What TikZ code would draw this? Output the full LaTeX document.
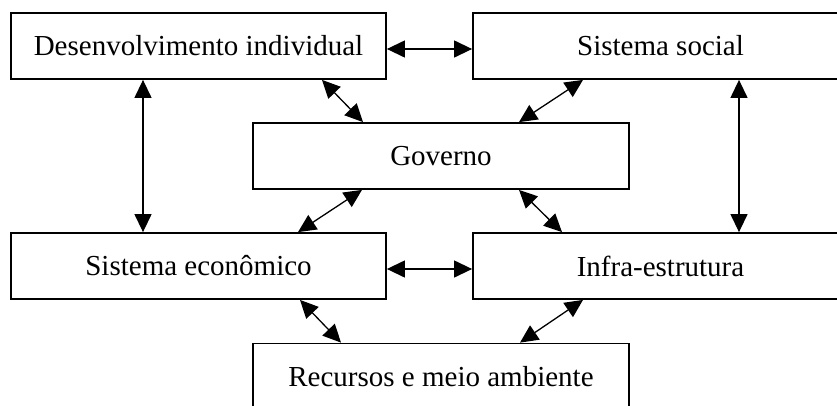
\documentclass[tikz,border=0pt]{standalone}
\usepackage{fontspec}
\setmainfont{Liberation Serif}
\usepackage{tikz}
\usetikzlibrary{arrows.meta,positioning}

\tikzset{
  bloco/.style={draw, line width=1.8pt, minimum width=375pt, minimum height=66pt,
    inner sep=0pt, font=\fontsize{29}{34}\selectfont},
  liga/.style={{Triangle[length=18pt,width=17pt]}-{Triangle[length=18pt,width=17pt]}, line width=1.3pt}
}

\begin{document}
\begin{tikzpicture}[x=1pt,y=-1pt]
        % Page frame (boxes run off the right and bottom edges)
        \useasboundingbox (0,0) rectangle (837,405);
        \clip (0,0) rectangle (837,405);

        % Boxes
        \node[bloco] (desenv) at (198.5,46) {Desenvolvimento individual};
        \node[bloco] (social) at (660.5,46) {Sistema social};
        \node[bloco, minimum width=376pt] (governo) at (441,156) {Governo};
        \node[bloco] (econ) at (198.5,266) {Sistema econômico};
        \node[bloco] (infra) at (660.5,266) {Infra-estrutura};
        \node[bloco, minimum width=376pt] (recursos) at (441,376.5) {Recursos e meio ambiente};

        % Horizontal links
        \draw[liga] ([yshift=-3pt]desenv.east) -- ([yshift=-3pt]social.west);
        \draw[liga] ([yshift=-3pt]econ.east) -- ([yshift=-3pt]infra.west);

        % Vertical links
        \draw[liga] ([xshift=-55.5pt]desenv.south) -- ([xshift=-55.5pt]econ.north);
        \draw[liga] ([xshift=78.5pt]social.south) -- ([xshift=78.5pt]infra.north);

        % Links with Governo
        \draw[liga] ([xshift=123.5pt]desenv.south) -- ([xshift=-78pt]governo.north);
        \draw[liga] ([xshift=-77.5pt]social.south) -- ([xshift=78pt]governo.north);
        \draw[liga] ([xshift=-79pt]governo.south) -- ([xshift=99.5pt]econ.north);
        \draw[liga] ([xshift=78pt]governo.south) -- ([xshift=-98.5pt]infra.north);

        % Links with Recursos
        \draw[liga] ([xshift=101.5pt]econ.south) -- ([xshift=-100pt]recursos.north);
        \draw[liga] ([xshift=-77.5pt]infra.south) -- ([xshift=79pt]recursos.north);
\end{tikzpicture}
\end{document}
